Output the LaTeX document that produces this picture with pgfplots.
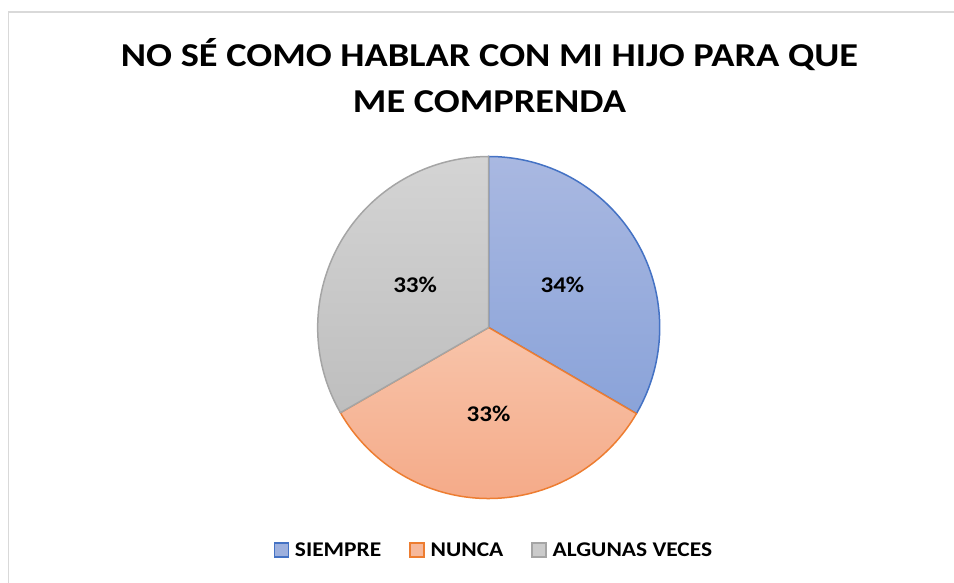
\documentclass[border=0pt]{standalone}
\usepackage{pgfplots}
\pgfplotsset{compat=1.18}
\usepackage{pgfplotstable}
\usetikzlibrary{calc}
\usepackage{fontspec}
\setmainfont{Carlito}
\definecolor{bluetop}{HTML}{A9B8E1}
\definecolor{bluebot}{HTML}{8AA3D9}
\definecolor{blueline}{HTML}{4472C4}
\definecolor{orangetop}{HTML}{F8C4AA}
\definecolor{orangebot}{HTML}{F4A784}
\definecolor{orangeline}{HTML}{ED7D31}
\definecolor{graytop}{HTML}{D4D4D4}
\definecolor{graybot}{HTML}{BEBEBE}
\definecolor{grayline}{HTML}{A5A5A5}
\definecolor{framec}{HTML}{D9D9D9}
\pgfplotstableread{
label value
SIEMPRE 33.4
NUNCA 33.3
ALGUNAS 33.3
}\pietable
\pgfplotstablegetelem{0}{value}\of\pietable \let\vA\pgfplotsretval
\pgfplotstablegetelem{1}{value}\of\pietable \let\vB\pgfplotsretval
\pgfplotstablegetelem{2}{value}\of\pietable \let\vC\pgfplotsretval
\pgfmathsetmacro\tot{\vA+\vB+\vC}
\pgfmathsetmacro\aO{90}
\pgfmathsetmacro\aA{90-360*\vA/\tot}
\pgfmathsetmacro\aB{\aA-360*\vB/\tot}
\pgfmathsetmacro\aC{\aB-360*\vC/\tot}
\pgfmathsetmacro\mA{(\aO+\aA)/2}
\pgfmathsetmacro\mB{(\aA+\aB)/2}
\pgfmathsetmacro\mC{(\aB+\aC)/2}
\def\cx{488.7}
\def\cy{255.5}
\def\R{171}
\newcommand\wide[1]{\scalebox{1.12}[1]{#1}}
\begin{document}
\begin{tikzpicture}
\useasboundingbox (0,0) rectangle (954bp,583bp);
\begin{axis}[
  at={(0,0)}, anchor=south west,
  width=954bp, height=583bp, scale only axis,
  xmin=0, xmax=954, ymin=0, ymax=583,
  hide axis, clip=false,
  legend columns=3,
  legend style={at={(axis cs:492.9,33.0)}, anchor=center, draw=none, fill=none,
    font=\fontsize{21}{24}\selectfont\bfseries,
    /tikz/every even column/.append style={column sep=28bp},
    inner sep=0pt, nodes={inner sep=0pt, anchor=west}},
  legend image code/.code={\draw[#1, line width=1.3bp] (0bp,-7bp) rectangle (14bp,7bp);},
]
\addlegendimage{draw=blueline, fill=bluetop!60!bluebot}
\addlegendentry{\hspace{6bp}\wide{SIEMPRE}}
\addlegendimage{draw=orangeline, fill=orangetop!60!orangebot}
\addlegendentry{\hspace{6bp}\wide{NUNCA}}
\addlegendimage{draw=grayline, fill=graytop!60!graybot}
\addlegendentry{\hspace{6bp}\wide{ALGUNAS VECES}}

\draw[framec, line width=1.2bp] (axis cs:8.5,-5) -- (axis cs:8.5,571) -- (axis cs:960,571);

\path[draw=blueline, line width=1.5bp, top color=bluetop, bottom color=bluebot]
  (axis cs:\cx,\cy) -- ++(\aO:\R bp) arc[start angle=\aO, end angle=\aA, radius=\R bp] -- cycle;
\path[draw=orangeline, line width=1.5bp, top color=orangetop, bottom color=orangebot]
  (axis cs:\cx,\cy) -- ++(\aA:\R bp) arc[start angle=\aA, end angle=\aB, radius=\R bp] -- cycle;
\path[draw=grayline, line width=1.5bp, top color=graytop, bottom color=graybot]
  (axis cs:\cx,\cy) -- ++(\aB:\R bp) arc[start angle=\aB, end angle=\aC, radius=\R bp] -- cycle;

\node[font=\fontsize{22.5}{26}\selectfont\bfseries] at ($(axis cs:\cx,\cy)+(\mA:85bp)$) {\wide{34\%}};
\node[font=\fontsize{22.5}{26}\selectfont\bfseries] at ($(axis cs:\cx,\cy)+(\mB:86bp)$) {\wide{33\%}};
\node[font=\fontsize{22.5}{26}\selectfont\bfseries] at ($(axis cs:\cx,\cy)+(\mC:85bp)$) {\wide{33\%}};

\node[font=\fontsize{33.5}{40}\selectfont\bfseries, anchor=base, inner sep=0pt] at (axis cs:489.5,516) {\scalebox{1.15}[1]{NO SÉ COMO HABLAR CON MI HIJO PARA QUE}};
\node[font=\fontsize{33.5}{40}\selectfont\bfseries, anchor=base, inner sep=0pt] at (axis cs:489.5,470.3) {\scalebox{1.15}[1]{ME COMPRENDA}};
\end{axis}
\end{tikzpicture}
\end{document}
